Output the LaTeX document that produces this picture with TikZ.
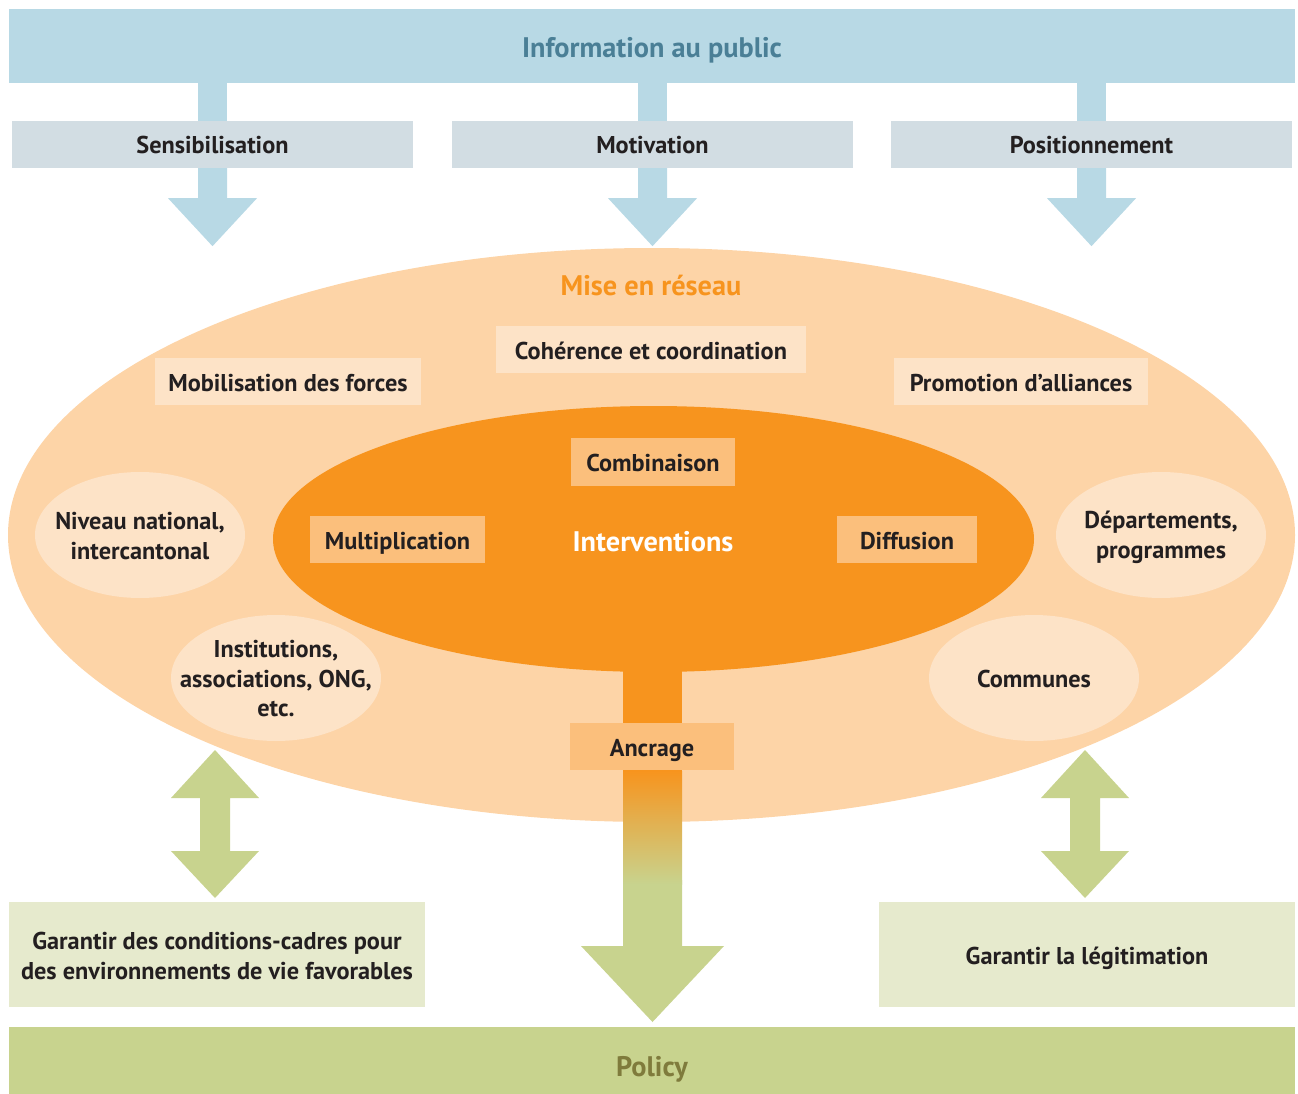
\documentclass[tikz,border=0pt]{standalone}
\usepackage{fontspec}
\setmainfont{PT Sans}
\usetikzlibrary{calc,shapes.geometric}
\definecolor{topblue}{HTML}{B8D9E5}
\definecolor{subgray}{HTML}{D2DDE3}
\definecolor{titleblue}{HTML}{4A7F96}
\definecolor{outerorange}{HTML}{FDD4A7}
\definecolor{innerorange}{HTML}{F7941E}
\definecolor{paleorange}{HTML}{FDE3C7}
\definecolor{midorange}{HTML}{FBBF7C}
\definecolor{polgreen}{HTML}{C8D38E}
\definecolor{palegreen}{HTML}{E6EACD}
\definecolor{olivetext}{HTML}{7F7B3C}
\definecolor{textdark}{HTML}{231F20}
\begin{document}
\begin{tikzpicture}[x=1pt,y=-1pt,
  every node/.style={font=\bfseries\fontsize{24.3}{29.5}\selectfont, text=textdark, inner sep=0pt, align=center},
  one/.style={text height=19pt, text depth=0pt},
  bigtext/.style={font=\bfseries\fontsize{28.3}{32}\selectfont, text height=22pt, text depth=0pt},
  subbox/.style={fill=subgray, minimum width=401pt, minimum height=47pt, one},
  palebox/.style={fill=paleorange, one},
  midbox/.style={fill=midorange, one},
  smallell/.style={ellipse, fill=paleorange, minimum width=210pt, minimum height=126pt},
  greenbox/.style={fill=palegreen, minimum width=416pt, minimum height=105pt}]
\useasboundingbox (0,0) rectangle (1298,1094);
% top bar
\node[fill=topblue, minimum width=1286pt, minimum height=74pt] (top) at (652,46) {};
\node[bigtext, text=titleblue] (toplabel) at (652,47) {Information au public};
% sub boxes
\node[subbox] (sens) at (212.5,144.5) {Sensibilisation};
\node[subbox] (moti) at (652.5,144.5) {Motivation};
\node[subbox] (posi) at (1091.5,144.5) {Positionnement};
% stems from top bar
\foreach \b in {sens,moti,posi}{
  \fill[topblue] ($(\b.north)+(-14.5,0)$) rectangle ($(\b.north |- top.south)+(14.5,0)$);
  \begin{scope}[shift={(\b.south)}]
    \fill[topblue] (-14.5,0) -- (-14.5,30) -- (-44.5,30) -- (0,78) -- (44.5,30) -- (14.5,30) -- (14.5,0) -- cycle;
  \end{scope}
}
% outer ellipse
\node[ellipse, fill=outerorange, minimum width=1287pt, minimum height=574pt] (net) at (651.5,535) {};
\node[bigtext, text=innerorange] (netlabel) at (651,284) {Mise en r\'eseau};
\node[palebox, minimum width=310pt, minimum height=47pt] (coh) at (651,349.5) {Coh\'erence et coordination};
\node[palebox, minimum width=266pt, minimum height=47pt] (mob) at (288,381.5) {Mobilisation des forces};
\node[palebox, minimum width=254pt, minimum height=47pt] (pro) at (1021,381.5) {Promotion d’alliances};
\node[smallell] (niv) at (140,535) {};
\node (nivtext) at (140,536) {Niveau national,\\intercantonal};
\node[smallell] (inst) at (276,678) {};
\node (insttext) at (276,679) {Institutions,\\associations, ONG,\\etc.};
\node[smallell] (dep) at (1161,535) {};
\node (deptext) at (1161,537.5) {D\'epartements,\\programmes};
\node[smallell] (com) at (1034,678) {};
\node[one] (comtext) at (1034,678) {Communes};
% stem from inner ellipse to policy
\coordinate (stemtop) at (652.5,640);
\fill[polgreen] (623,880) -- (623,946) -- (581,946) -- (652.5,1022) -- (724,946) -- (682,946) -- (682,880) -- cycle;
\fill[innerorange] ($(stemtop)+(-29.5,0)$) rectangle (682,772);
\shade[top color=innerorange, bottom color=polgreen] (623,771) rectangle (682,884);
% inner ellipse
\node[ellipse, fill=innerorange, minimum width=761pt, minimum height=266pt] (int) at (653.5,539) {};
\node[bigtext, text=white] (intlabel) at (653,540) {Interventions};
\node[midbox, minimum width=164pt, minimum height=48pt] (comb) at (653,462) {Combinaison};
\node[midbox, minimum width=175pt, minimum height=47pt] (mult) at (397.5,539.5) {Multiplication};
\node[midbox, minimum width=140pt, minimum height=47pt] (diff) at (907,539.5) {Diffusion};
\node[midbox, minimum width=164pt, minimum height=47pt] (anc) at (652,746.5) {Ancrage};
% bottom boxes
\node[greenbox] (gcond) at (217,954.5) {};
\node (gcondtext) at (217,956) {Garantir des conditions-cadres pour\\des environnements de vie favorables};
\node[greenbox, one] (gleg) at (1087,954.5) {Garantir la l\'egitimation};
\node[fill=polgreen, minimum width=1286pt, minimum height=67pt] (pol) at (652,1060.5) {};
\node[bigtext, text=olivetext] (poltext) at (652,1065) {Policy};
% double arrows
\foreach \c in {215,1085}{
  \begin{scope}[shift={(\c,0)}]
    \fill[polgreen] (0,750) -- (44,798) -- (15,798) -- (15,851) -- (44,851) -- (0,898) -- (-44,851) -- (-15,851) -- (-15,798) -- (-44,798) -- cycle;
  \end{scope}
}
\end{tikzpicture}
\end{document}
